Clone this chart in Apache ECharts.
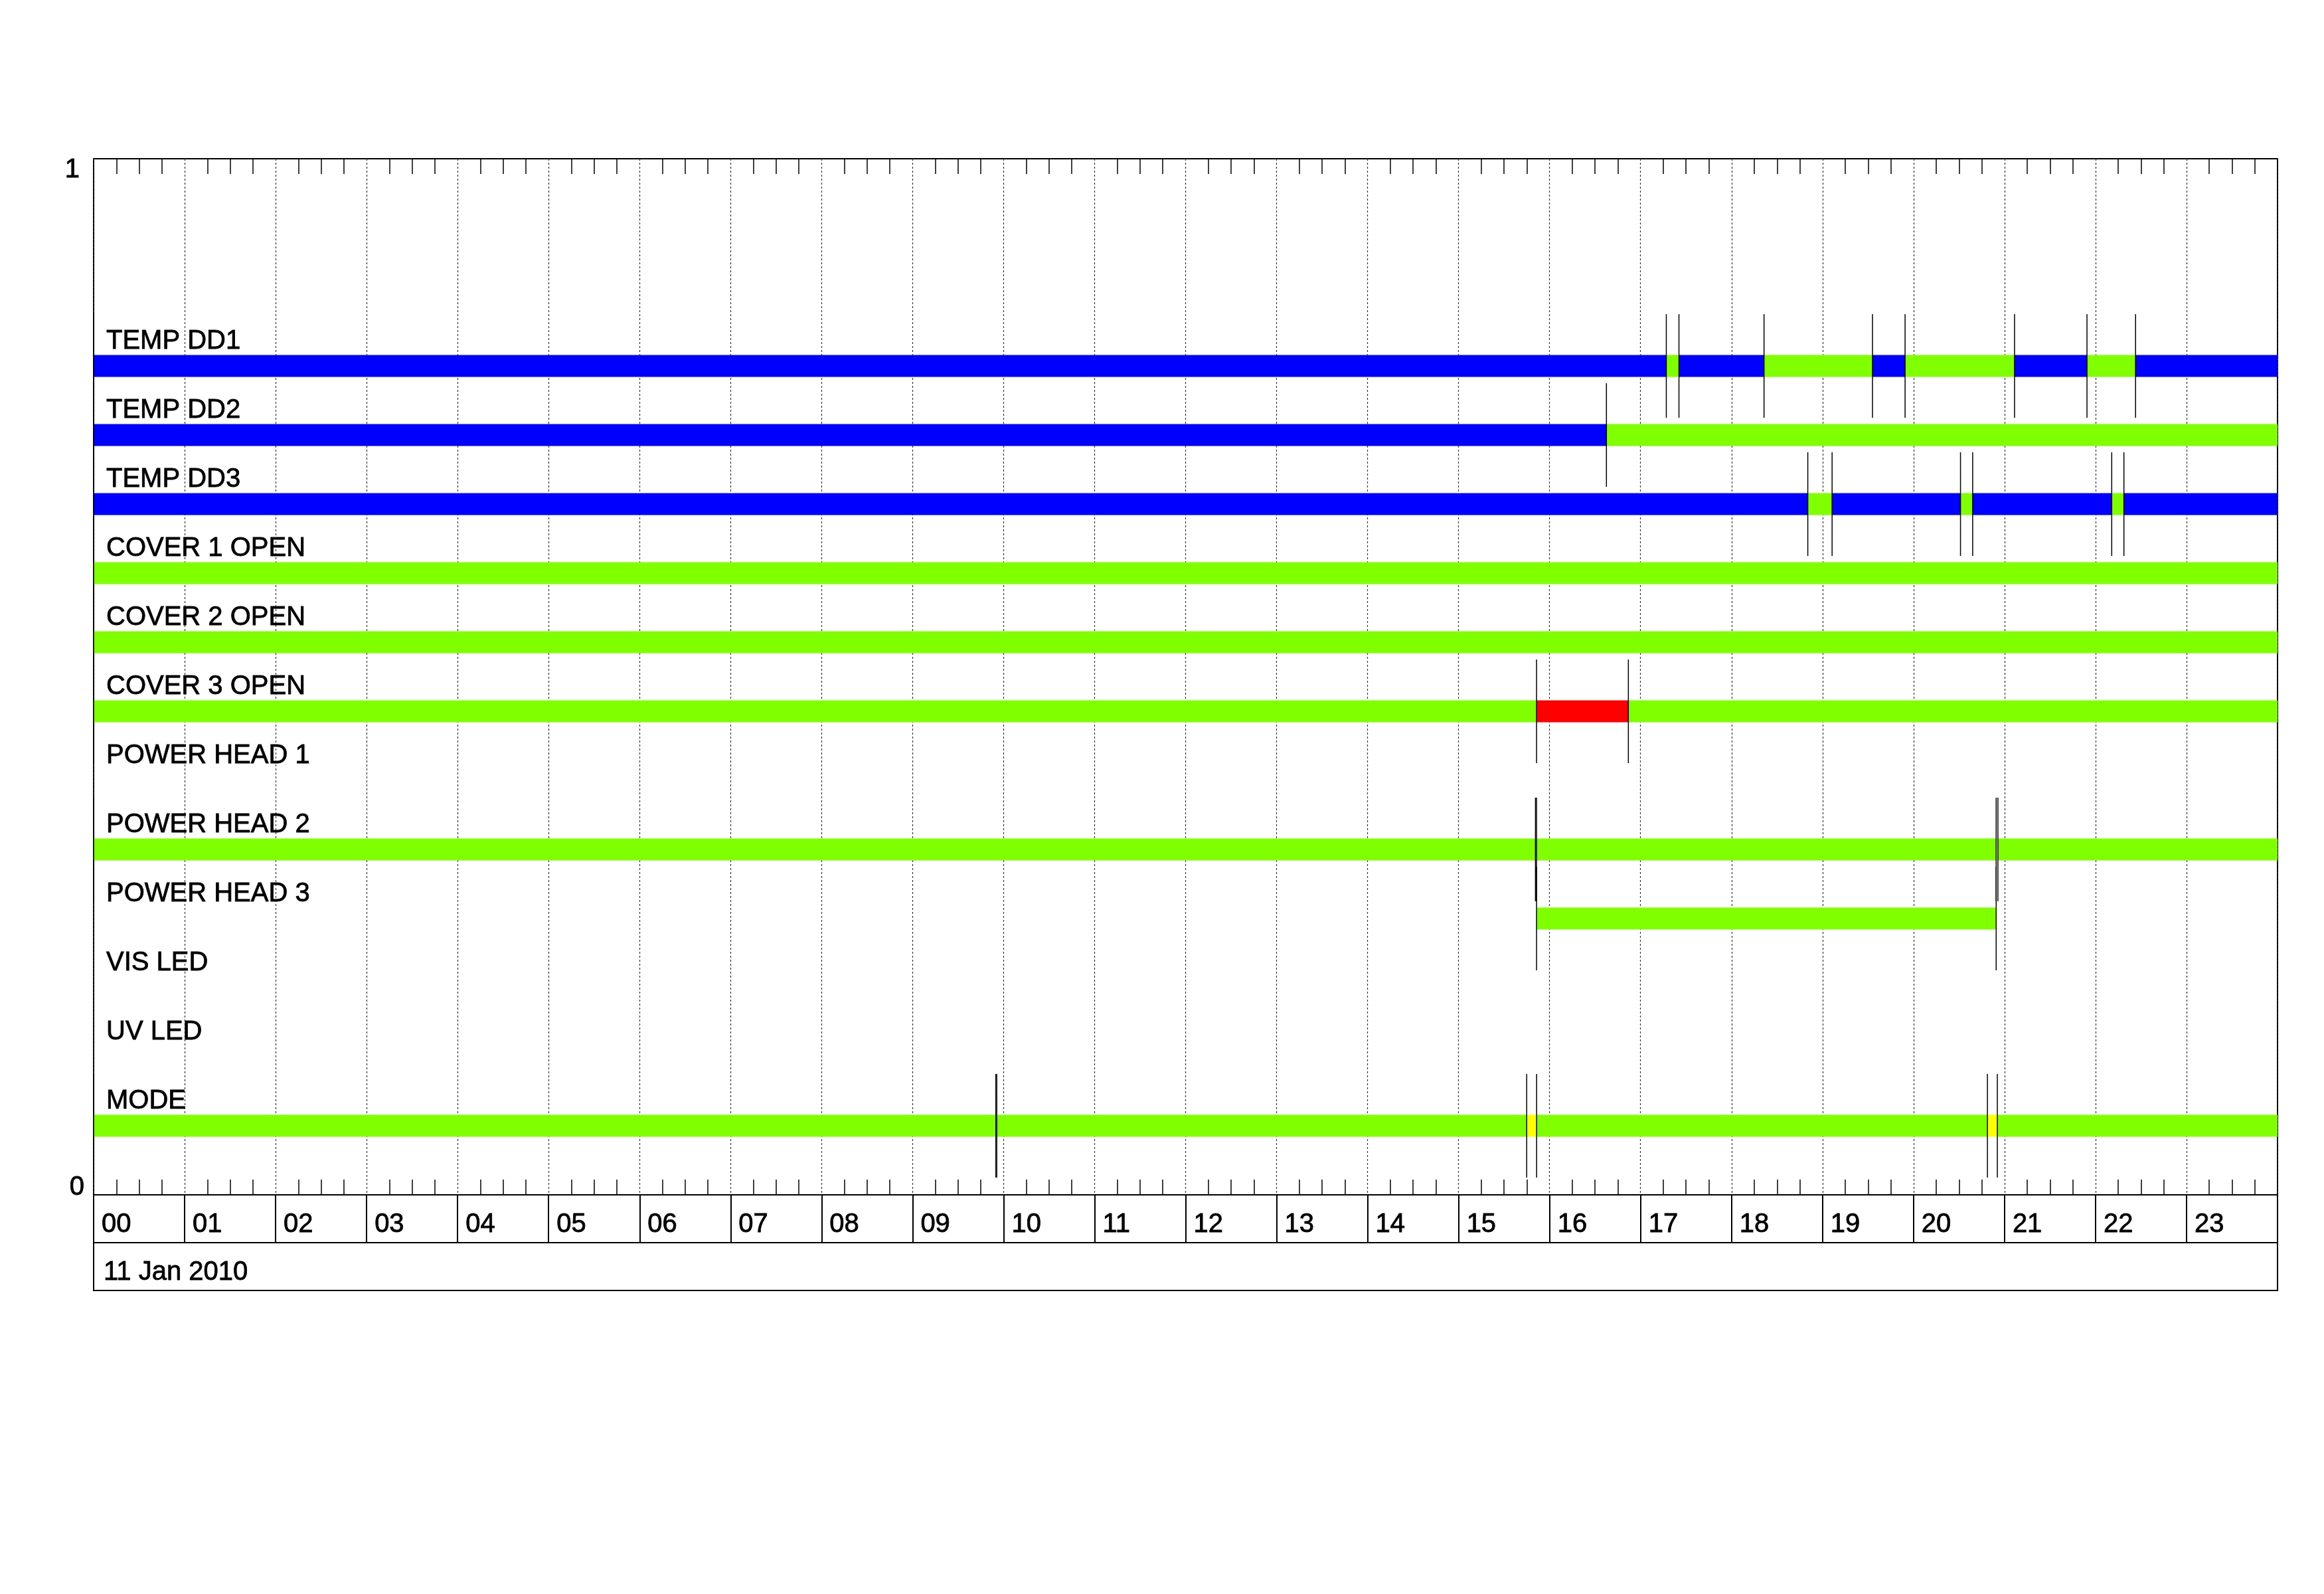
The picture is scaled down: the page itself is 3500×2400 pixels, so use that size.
<!DOCTYPE html>
<html><head><meta charset="utf-8">
<script src="https://cdn.jsdelivr.net/npm/echarts@6/dist/echarts.min.js"></script>
<style>html,body{margin:0;padding:0;background:#fff}#c{width:3500px;height:2400px}</style>
</head><body><div id="c"></div>
<script>
// ---------------- data ----------------
const rowNames = ['TEMP DD1','TEMP DD2','TEMP DD3','COVER 1 OPEN','COVER 2 OPEN','COVER 3 OPEN',
                  'POWER HEAD 1','POWER HEAD 2','POWER HEAD 3','VIS LED','UV LED','MODE'];
// segments: [start hour, end hour, state]  B=blue G=green R=red Y=yellow
const segTempDD1 = [[0,17.283,'B'],[17.283,17.422,'G'],[17.422,18.357,'B'],[18.357,19.549,'G'],
                    [19.549,19.907,'B'],[19.907,21.110,'G'],[21.110,21.906,'B'],[21.906,22.440,'G'],[22.440,24,'B']];
const segTempDD2 = [[0,16.625,'B'],[16.625,24,'G']];
const segTempDD3 = [[0,18.838,'B'],[18.838,19.105,'G'],[19.105,20.516,'B'],[20.516,20.650,'G'],
                    [20.650,22.178,'B'],[22.178,22.312,'G'],[22.312,24,'B']];
const segCover1 = [[0,24,'G']];
const segCover2 = [[0,24,'G']];
const segCover3 = [[0,15.857,'G'],[15.857,16.866,'R'],[16.866,24,'G']];
const segPower1 = [];
const segPower2 = [[0,15.845,'G'],[15.857,20.908,'G'],[20.927,24,'G']];
const segPower3 = [[15.857,20.908,'G']];
const segVisLed = [];
const segUvLed = [];
const segMode = [[0,9.915,'G'],[9.925,15.749,'G'],[15.749,15.858,'Y'],[15.858,20.812,'G'],
                 [20.812,20.921,'Y'],[20.921,24,'G']];
const hourLabels = ['00','01','02','03','04','05','06','07','08','09','10','11',
                    '12','13','14','15','16','17','18','19','20','21','22','23'];
const yTickLabels = ['0','1'];
const dateLabel = '11 Jan 2010';

// ---------------- build ----------------
const allSegs = [segTempDD1,segTempDD2,segTempDD3,segCover1,segCover2,segCover3,
                 segPower1,segPower2,segPower3,segVisLed,segUvLed,segMode];
const stateKeys = ['B','G','R','Y'];
const stateColors = ['#0000ff','#7fff00','#ff0000','#ffff00'];
const SLOTS = 15;
const rowY = i => (rowNames.length - i) / SLOTS;

const barData = [];
const markerData = [];
allSegs.forEach((segs, i) => {
  const y = rowY(i);
  const seen = {};
  segs.forEach(s => {
    barData.push([s[0], s[1], y, stateKeys.indexOf(s[2])]);
    [s[0], s[1]].forEach(t => {
      if (t < 24 && !seen[t]) { seen[t] = 1; markerData.push([t, y]); }
    });
  });
});
const labelData = rowNames.map((n, i) => [0, rowY(i)]);

const FONT = "'Liberation Sans', Arial, sans-serif";
const BAR_H = 33;
const MARK_HALF = 0.05;
const TXT = {fontFamily: FONT, fontSize: 40, color: '#000', textBorderColor: '#000', textBorderWidth: 0.8};

const chart = echarts.init(document.getElementById('c'), null, {renderer: 'canvas'});
const gridBase = {left: 141, width: 3289, show: true, borderColor: '#000', borderWidth: 2,
                  backgroundColor: 'transparent', containLabel: false, outerBoundsMode: 'none'};
chart.setOption({
  animation: false,
  backgroundColor: '#fff',
  grid: [
    Object.assign({top: 239, height: 1560}, gridBase),
    Object.assign({top: 1799, height: 72}, gridBase),
    Object.assign({top: 1871, height: 72}, gridBase)
  ],
  xAxis: [
    {gridIndex: 0, type: 'value', min: 0, max: 24, interval: 1, position: 'bottom',
     axisLine: {show: true, lineStyle: {color: '#000', width: 2}},
     axisTick: {show: false, inside: true},
     minorTick: {show: true, splitNumber: 4, length: 23, lineStyle: {color: '#000', width: 1.5}},
     axisLabel: Object.assign({show: true, formatter: v => (v < 24 ? hourLabels[v] : ''), align: 'left',
                 verticalAlign: 'middle', margin: 45, padding: [0, 0, 0, 12]}, TXT),
     splitLine: {show: true, lineStyle: {color: '#333', width: 1.2, type: [3, 3]}},
     minorSplitLine: {show: false}},
    {gridIndex: 0, type: 'value', min: 0, max: 24, interval: 1, position: 'top',
     axisLine: {show: false}, axisTick: {show: false, inside: true},
     minorTick: {show: true, splitNumber: 4, length: 23, lineStyle: {color: '#000', width: 1.5}},
     axisLabel: {show: false}, splitLine: {show: false}},
    {gridIndex: 1, type: 'value', min: 0, max: 24, interval: 1,
     axisLine: {show: false}, axisTick: {show: false}, axisLabel: {show: false},
     splitLine: {show: true, lineStyle: {color: '#000', width: 2, type: 'solid'}}},
    {gridIndex: 2, type: 'value', min: 0, max: 24, show: false}
  ],
  yAxis: [
    {gridIndex: 0, type: 'value', min: 0, max: 1, interval: 1,
     axisLine: {show: false}, axisTick: {show: false}, splitLine: {show: false},
     axisLabel: Object.assign({show: true, margin: 14,
                 formatter: v => (v === 1 ? '{t|' + yTickLabels[1] + '}' : '{b|' + yTickLabels[0] + '}'),
                 rich: {t: Object.assign({padding: [34, 7, 0, 0]}, TXT),
                        b: Object.assign({padding: [0, 0, 22, 0]}, TXT)}}, TXT)},
    {gridIndex: 1, type: 'value', min: 0, max: 1, show: false},
    {gridIndex: 2, type: 'value', min: 0, max: 1, show: false}
  ],
  graphic: [
    {type: 'text', x: 156, y: 1916,
     style: {text: dateLabel, fontFamily: FONT, fontSize: 40, fill: '#000',
             stroke: '#000', lineWidth: 0.8,
             align: 'left', verticalAlign: 'middle'}}
  ],
  series: [
    {type: 'custom', xAxisIndex: 0, yAxisIndex: 0, data: barData, z: 2,
     encode: {x: [0, 1], y: 2},
     renderItem: (params, api) => {
       const p0 = api.coord([api.value(0), api.value(2)]);
       const p1 = api.coord([api.value(1), api.value(2)]);
       return {type: 'rect',
               shape: {x: p0[0], y: p0[1] - BAR_H / 2, width: p1[0] - p0[0], height: BAR_H},
               style: {fill: stateColors[api.value(3)]}};
     }},
    {type: 'custom', xAxisIndex: 0, yAxisIndex: 0, data: markerData, z: 3,
     encode: {x: 0, y: 1},
     renderItem: (params, api) => {
       const a = api.coord([api.value(0), api.value(1) + MARK_HALF]);
       const b = api.coord([api.value(0), api.value(1) - MARK_HALF]);
       return {type: 'line', shape: {x1: a[0], y1: a[1], x2: b[0], y2: b[1]},
               style: {stroke: '#000', lineWidth: 1.5}};
     }},
    {type: 'custom', xAxisIndex: 0, yAxisIndex: 0, data: labelData, z: 4,
     encode: {x: 0, y: 1},
     renderItem: (params, api) => {
       const p = api.coord([api.value(0), api.value(1)]);
       return {type: 'text', x: p[0] + 19, y: p[1] - 37.5,
               style: {text: rowNames[params.dataIndex], fontFamily: FONT, fontSize: 40,
                       fill: '#000', stroke: '#000', lineWidth: 0.8,
                       align: 'left', verticalAlign: 'middle'}};
     }}
  ]
});
</script>
</body></html>
